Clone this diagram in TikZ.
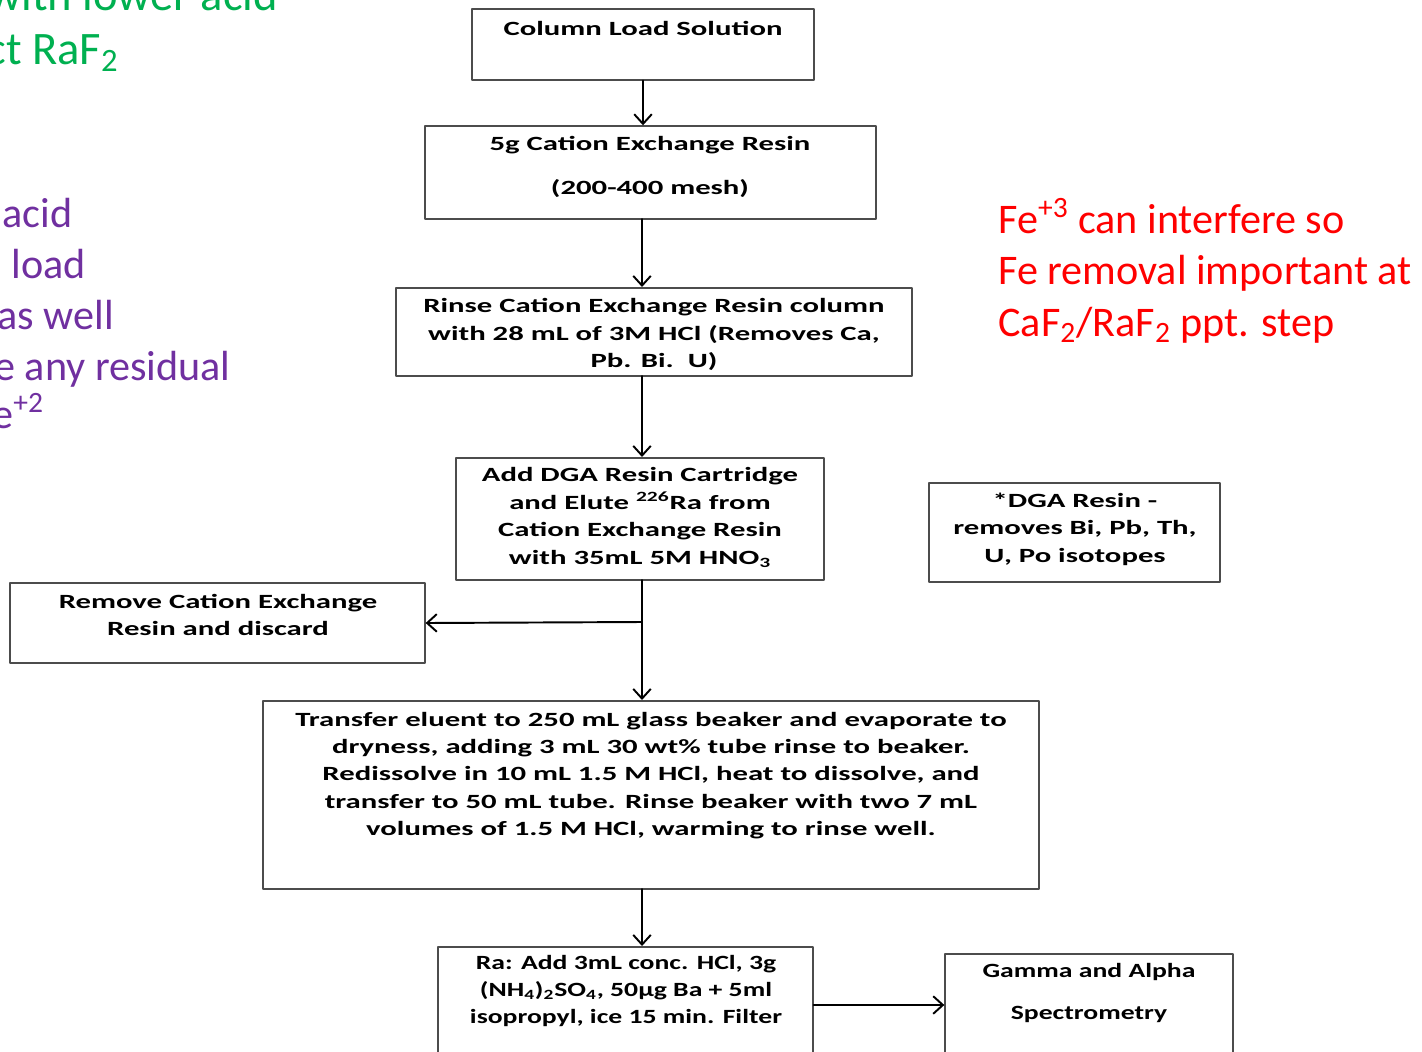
\documentclass[tikz,border=0pt]{standalone}
\usepackage{fontspec}
\usepackage{tikz}
\usetikzlibrary{calc}
\usetikzlibrary{arrows.meta}
\setmainfont{Carlito}
\newfontfamily\boxfont{Carlito}[FakeStretch=1.52]
\newfontfamily\boxfontn{Carlito}[FakeStretch=1.37]
\definecolor{ggzzqq}{rgb}{0.,0.6901960784313725,0.3137254901960784}
\definecolor{qqaazz}{rgb}{0.4392156862745098,0.18823529411764706,0.6274509803921569}
\definecolor{ffqqqq}{rgb}{1.,0.,0.}
\definecolor{uuuuuu}{rgb}{0.3,0.3,0.3}
\tikzstyle{stepbox}=[draw=uuuuuu,line width=0.8pt,rectangle,inner sep=0pt]
\tikzstyle{steptext}=[align=center,inner sep=0pt,font=\boxfont\bfseries\fontsize{11.5}{15.6}\selectfont]
\tikzstyle{steptextn}=[align=center,inner sep=0pt,font=\boxfontn\bfseries\fontsize{11.5}{15.6}\selectfont]
\tikzstyle{note}=[anchor=base west,align=left,inner sep=0pt,font=\fontsize{24}{29.3}\selectfont]
\begin{document}
\begin{tikzpicture}[line cap=round,line join=round,>={Straight Barb[length=5.5pt,width=10pt]},x=0.02cm,y=-0.02cm]
            \useasboundingbox (0,0) rectangle (1422,1051);
            \clip (0,0) rectangle (1422,1051);
            \node[stepbox,minimum width=6.84cm,minimum height=1.42cm] (load) at (643,44.5) {};
            \node[steptext] (loadtxt) at (643,28) {Column Load Solution};
            \node[stepbox,minimum width=9.02cm,minimum height=1.86cm] (resin) at (650.5,172.5) {};
            \node[steptext] (resintxt) at (650,167) {5g Cation Exchange Resin\\[9.7pt](200-400 mesh)};
            \node[stepbox,minimum width=10.32cm,minimum height=1.76cm] (rinse) at (654,332) {};
            \node[steptext] (rinsetxt) at (654,334.5) {Rinse Cation Exchange Resin column\\with 28 mL of 3M HCl (Removes Ca,\\Pb. Bi.\ \ U)};
            \node[stepbox,minimum width=7.36cm,minimum height=2.44cm] (dga) at (640,519) {};
            \node[steptext] (dgatxt) at (640,517.5) {Add DGA Resin Cartridge\\and Elute \textsuperscript{226}Ra from\\Cation Exchange Resin\\with 35mL 5M HNO\textsubscript{3}};
            \node[stepbox,minimum width=5.82cm,minimum height=1.98cm] (dganote) at (1074.5,532.5) {};
            \node[steptext] (dganotetxt) at (1075,529) {*DGA Resin -\\removes Bi, Pb, Th,\\U, Po isotopes};
            \node[stepbox,minimum width=8.3cm,minimum height=1.6cm] (discard) at (217.5,623) {};
            \node[steptext] (discardtxt) at (218,615) {Remove Cation Exchange\\Resin and discard};
            \node[stepbox,minimum width=15.52cm,minimum height=3.76cm] (transfer) at (651,795) {};
            \node[steptext] (transfertxt) at (651,775.5) {Transfer eluent to 250 mL glass beaker and evaporate to\\dryness, adding 3 mL 30 wt\% tube rinse to beaker.\\Redissolve in 10 mL 1.5 M HCl, heat to dissolve, and\\transfer to 50 mL tube. Rinse beaker with two 7 mL\\volumes of 1.5 M HCl, warming to rinse well.};
            \node[stepbox,minimum width=7.5cm,minimum height=2.46cm] (ra) at (625.5,1008.5) {};
            \node[steptextn] (ratxt) at (626,991) {Ra: Add 3mL conc. HCl, 3g\\(NH\textsubscript{4})\textsubscript{2}SO\textsubscript{4}, 50µg Ba + 5ml\\isopropyl, ice 15 min. Filter};
            \node[stepbox,minimum width=5.76cm,minimum height=2.32cm] (spec) at (1089,1012) {};
            \node[steptextn] (spectxt) at (1089,993) {Gamma and Alpha\\[8.3pt]Spectrometry};
            \coordinate (split) at (642,622);
            \draw [line width=1.1pt,->] (load.south) -- (load.south |- resin.north);
            \draw [line width=1.1pt,->] (642,219) -- (642,287);
            \draw [line width=1.1pt,->] (642,376) -- (642,457);
            \draw [line width=1.1pt,->] (642,580) -- (642,700);
            \draw [line width=1.1pt,->] (split) -- (discard.east);
            \draw [line width=1.1pt,->] (642,889) -- (642,946);
            \draw [line width=1.1pt,->] (ra.east |- 0,1005) -- (spec.west |- 0,1005);
            \node[note,color=ggzzqq,font=\fontsize{26.5}{32}\selectfont] (green1) at (-12,11) {with lower acid};
            \node[note,color=ggzzqq,font=\fontsize{26.5}{32}\selectfont] (green2) at (-14,65) {ct RaF\textsubscript{2}};
            \node[note,color=qqaazz] (purple1) at (2,227) {acid};
            \node[note,color=qqaazz] (purple2) at (11,278) {load};
            \node[note,color=qqaazz] (purple3) at (-3,329) {as well};
            \node[note,color=qqaazz] (purple4) at (-6,380) {e any residual};
            \node[note,color=qqaazz] (purple5) at (-8,428) {e\textsuperscript{+2}};
            \node[note,color=ffqqqq] (fenote) at (998,336) {Fe\textsuperscript{+3} can interfere so\\Fe removal important at\\CaF\textsubscript{2}/RaF\textsubscript{2} ppt. step};
        \end{tikzpicture}
\end{document}
